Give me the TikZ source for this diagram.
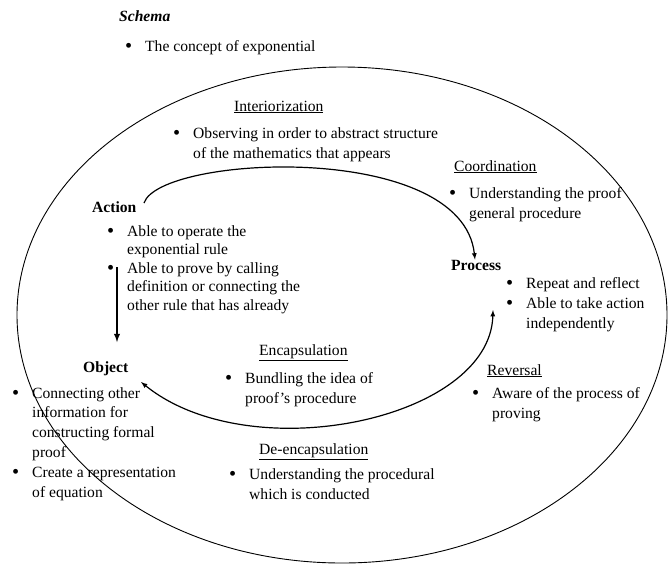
\documentclass[tikz,border=0pt]{standalone}
\usepackage{fontspec}
\usepackage{graphicx}
\setmainfont{Liberation Serif}
\newcommand{\bu}{\leavevmode\llap{\raisebox{-1.2pt}{\scalebox{1.3}{\textbullet}}\hspace{13pt}}}

\begin{document}
\begin{tikzpicture}[x=1pt, y=-1pt,
    every node/.style={inner sep=0pt, anchor=base west, align=left,
        font=\fontsize{15.6}{19.8}\selectfont},
    head/.style={font=\fontsize{15.6}{19.8}\selectfont\bfseries},
    >=latex]
    \useasboundingbox (0,0) rectangle (668,563);

    % Schema (Textblöcke stehen auf der Grundlinie ihrer letzten Zeile)
    \node[font=\fontsize{15.6}{19.8}\selectfont\bfseries\itshape] (schema) at (119,21) {Schema};
    \node (schemaT) at (145,51) {\bu The concept of exponential};
    \draw[line width=0.9pt] (342,315) ellipse [x radius=325, y radius=248];

    % Stufen
    \node[head] (action) at (92,212) {Action};
    \node[font=\fontsize{15.6}{18.4}\selectfont] (actionT) at (127,310)
        {\bu Able to operate the\\ exponential rule\\ \bu Able to prove by calling\\
         definition or connecting the\\ other rule that has already};
    \node[head] (process) at (451,270) {Process};
    \node (processT) at (526,328) {\bu Repeat and reflect\\ \bu Able to take action\\ independently};
    \node[head] (object) at (83,372) {Object};
    \node (objectT) at (32,497) {\bu Connecting other\\ information for\\ constructing formal\\
        proof\\ \bu Create a representation\\ of equation};

    % Mechanismen
    \node (inter) at (234,111) {\underline{Interiorization}};
    \node (interT) at (193,158) {\bu Observing in order to abstract structure\\ of the mathematics that appears};
    \node (coord) at (454,171) {\underline{Coordination}};
    \node (coordT) at (469,218) {\bu Understanding the proof\\ general procedure};
    \node (encap) at (259,355) {\underline{Encapsulation}};
    \node (encapT) at (245,403) {\bu Bundling the idea of\\ proof's procedure};
    \node (deencap) at (259,454) {\underline{De-encapsulation}};
    \node (deencapT) at (249,499) {\bu Understanding the procedural\\ which is conducted};
    \node (rev) at (487,375) {\underline{Reversal}};
    \node (revT) at (492,418) {\bu Aware of the process of\\ proving};

    % Pfeile
    \coordinate (a-out) at (144,203);
    \coordinate (a-down) at (117,267);
    \coordinate (o-in) at (117,342);
    \coordinate (o-arc) at (141,382);
    \coordinate (p-arc) at (493,310);
    \draw[->, line width=1.2pt] (a-out) .. controls (160,155) and (462,140) .. (process.north -| 475,0);
    \draw[->, line width=1.8pt] (a-down) -- (o-in);
    \draw[<->, line width=1.2pt] (p-arc) .. controls (490,420) and (250,470) .. (o-arc);
\end{tikzpicture}
\end{document}
